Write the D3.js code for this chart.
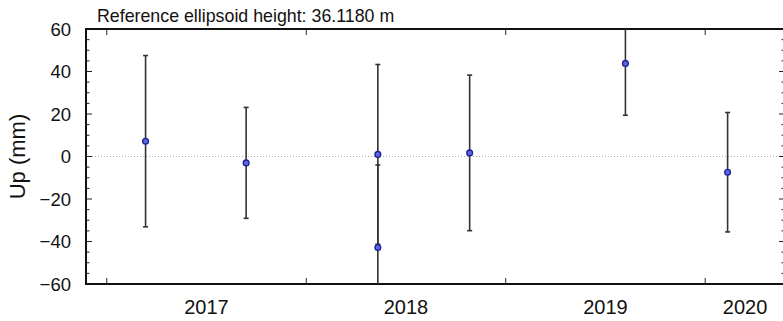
<!DOCTYPE html>
<html>
<head>
<meta charset="utf-8">
<script src="https://cdn.jsdelivr.net/npm/d3@7"></script>
<style>
  body { margin: 0; background: #fff; }
  text { font-family: "Liberation Sans", Arial, Helvetica, sans-serif; fill: #111; }
</style>
</head>
<body>
<div id="chart"></div>
<script>
'use strict';

// observation epochs, offsets (mm) and sigma (mm)
var dates = ['2017-03-13', '2017-09-13', '2018-05-12', '2018-05-12', '2018-10-27', '2019-08-08', '2020-02-11'];
var upValues = [7.2, -3.0, 1.0, -42.8, 1.7, 43.8, -7.4];
var upErrors = [40.3, 26.1, 42.3, 38.8, 36.6, 24.4, 28.1];
var yTicks = [-60, -40, -20, 0, 20, 40, 60];
var yearLabels = ['2017', '2018', '2019', '2020'];
var titleText = 'Reference ellipsoid height: 36.1180 m';

var width = 783, height = 321;
var plotLeft = 86, plotRight = 785, plotTop = 29, plotBottom = 284;

var parse = d3.timeParse('%Y-%m-%d');
var points = dates.map(function(d, i) {
  return { date: parse(d), value: upValues[i], err: upErrors[i] };
});

var svg = d3.select('#chart')
            .append('svg')
            .attr('width', width)
            .attr('height', height);

var x = d3.scaleTime()
          .domain([new Date(2016, 10, 24), new Date(2020, 4, 26)])
          .range([plotLeft, plotRight]);

var y = d3.scaleLinear()
          .domain([-60, 60])
          .range([plotBottom, plotTop]);

svg.append('clipPath')
   .attr('id', 'plotclip')
   .append('rect')
   .attr('x', plotLeft)
   .attr('y', plotTop)
   .attr('width', plotRight - plotLeft)
   .attr('height', plotBottom - plotTop);

// zero line
svg.append('line')
   .attr('x1', plotLeft)
   .attr('x2', plotRight)
   .attr('y1', y(0))
   .attr('y2', y(0))
   .attr('stroke', '#999')
   .attr('stroke-width', 0.8)
   .attr('stroke-dasharray', '1,2');

// ticks on left/right (major every 20, minor every 5)
var minor = d3.range(-60, 61, 5);
[plotLeft, plotRight].forEach(function(xPos, side) {
  var dir = side === 0 ? 1 : -1;
  svg.append('g')
     .selectAll('line')
     .data(minor)
     .enter()
     .append('line')
     .attr('x1', xPos)
     .attr('x2', function(d) { return xPos + dir * (d % 20 === 0 ? 6 : 3.5); })
     .attr('y1', function(d) { return y(d); })
     .attr('y2', function(d) { return y(d); })
     .attr('stroke', '#222')
     .attr('stroke-width', 1);
});

// year ticks top and bottom
var years = x.ticks(d3.timeYear.every(1));
[plotTop, plotBottom].forEach(function(yPos, side) {
  var dir = side === 0 ? 1 : -1;
  svg.append('g')
     .selectAll('line')
     .data(years)
     .enter()
     .append('line')
     .attr('x1', function(d) { return x(d); })
     .attr('x2', function(d) { return x(d); })
     .attr('y1', yPos)
     .attr('y2', yPos + dir * 6)
     .attr('stroke', '#222')
     .attr('stroke-width', 1);
});

// frame
svg.append('path')
   .attr('d', 'M' + plotRight + ',' + plotTop + 'H' + plotLeft + 'V' + plotBottom + 'H' + plotRight)
   .attr('fill', 'none')
   .attr('stroke', '#111')
   .attr('stroke-width', 2);

// y tick labels
svg.append('g')
   .selectAll('text')
   .data(yTicks)
   .enter()
   .append('text')
   .attr('x', plotLeft - 15)
   .attr('y', function(d) { return y(d); })
   .attr('dy', '0.36em')
   .attr('text-anchor', 'end')
   .style('font-size', '18.5px')
   .text(function(d) { return d < 0 ? '\u2212' + Math.abs(d) : d; });

// year labels centred in the visible part of each year
svg.append('g')
   .selectAll('text')
   .data(yearLabels)
   .enter()
   .append('text')
   .attr('x', function(d) {
     var a = Math.max(x(new Date(+d, 0, 1)), plotLeft);
     var b = Math.min(x(new Date(+d + 1, 0, 1)), plotRight);
     return (a + b) / 2;
   })
   .attr('y', 314)
   .attr('text-anchor', 'middle')
   .style('font-size', '20px')
   .text(function(d) { return d; });

// axis title
svg.append('text')
   .attr('transform', 'translate(25,' + y(0) + ') rotate(-90)')
   .attr('text-anchor', 'middle')
   .style('font-size', '22px')
   .text('Up (mm)');

// top title
svg.append('text')
   .attr('x', 97)
   .attr('y', 22)
   .style('font-size', '17.8px')
   .text(titleText);

// error bars and points
var marks = svg.append('g').attr('clip-path', 'url(#plotclip)');

marks.selectAll('line.err')
     .data(points)
     .enter()
     .append('line')
     .classed('err', true)
     .attr('x1', function(d) { return x(d.date); })
     .attr('x2', function(d) { return x(d.date); })
     .attr('y1', function(d) { return y(d.value + d.err); })
     .attr('y2', function(d) { return y(d.value - d.err); })
     .attr('stroke', '#333')
     .attr('stroke-width', 1.6);

[1, -1].forEach(function(s) {
  marks.selectAll('line.cap' + (s > 0 ? 'hi' : 'lo'))
       .data(points)
       .enter()
       .append('line')
       .classed('cap' + (s > 0 ? 'hi' : 'lo'), true)
       .attr('x1', function(d) { return x(d.date) - 2.5; })
       .attr('x2', function(d) { return x(d.date) + 2.5; })
       .attr('y1', function(d) { return y(d.value + s * d.err); })
       .attr('y2', function(d) { return y(d.value + s * d.err); })
       .attr('stroke', '#333')
       .attr('stroke-width', 1.6);
});

marks.selectAll('circle')
     .data(points)
     .enter()
     .append('circle')
     .attr('cx', function(d) { return x(d.date); })
     .attr('cy', function(d) { return y(d.value); })
     .attr('r', 2.9)
     .attr('fill', '#5a68dc')
     .attr('stroke', '#1e1e9a')
     .attr('stroke-width', 1.3);
</script>
</body>
</html>
